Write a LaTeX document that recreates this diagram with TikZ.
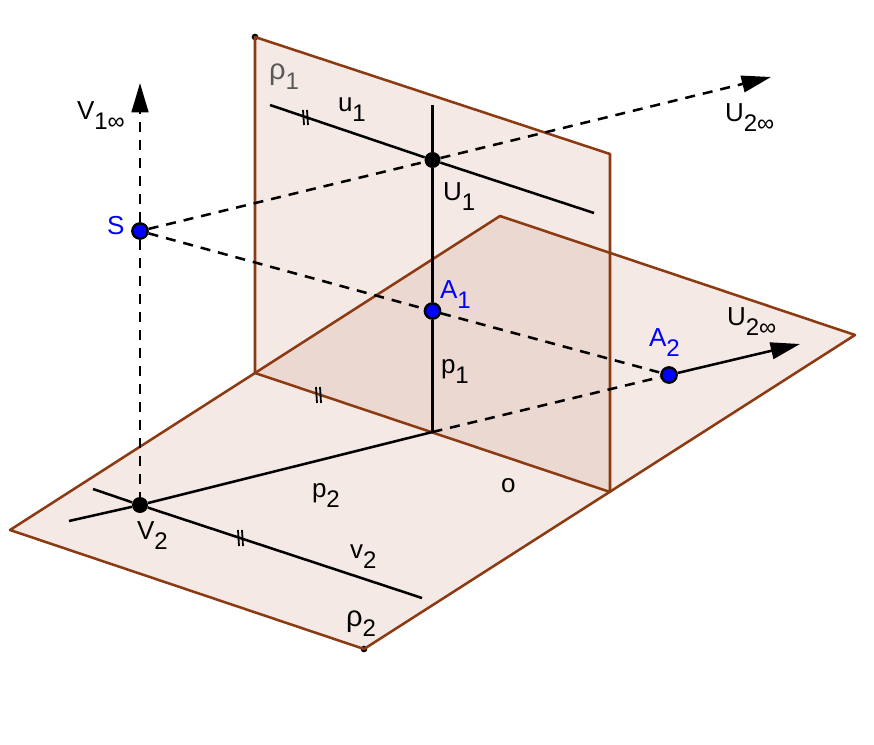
\documentclass[tikz,border=0pt]{standalone}
\usepackage{fontspec}
\setmainfont{Liberation Sans}
\usetikzlibrary{arrows.meta}
\definecolor{planeF}{HTML}{F5E9E5}
\definecolor{planeD}{HTML}{EBD8D0}
\definecolor{edgeC}{HTML}{8B3A12}
\newcommand{\lab}[2]{{\fontsize{19.5}{19.5}\selectfont #1}\raisebox{-7.5pt}{\fontsize{18}{18}\selectfont #2}}
\newcommand{\rholab}[1]{\lab{\scalebox{1.12}{ρ}}{#1}}
\tikzset{
 planeedge/.style={draw=edgeC,line width=1.9pt,line join=round},
 solidl/.style={draw=black,line width=1.9pt},
 dashl/.style={draw=black,line width=1.9pt,dash pattern=on 7.5pt off 6pt},
 tip/.style={-{Triangle[length=22pt,width=12.5pt]}},
 ptb/.style={circle,fill=black,inner sep=0pt,minimum size=12pt},
 ptk/.style={circle,fill=blue,draw=black,line width=1.8pt,inner sep=0pt,minimum size=11.5pt},
 ptd/.style={circle,fill=black,inner sep=0pt,minimum size=5pt},
 txt/.style={anchor=base west,inner sep=0pt,outer sep=0pt,text=black},
 tick/.style={draw=black,line width=1.35pt},
}
\begin{document}
\begin{tikzpicture}[x=0.75pt,y=-0.75pt]
\useasboundingbox (0,0) rectangle (874,745);
% plane corners
\coordinate (a1) at (255,37);
\coordinate (a2) at (610,154);
\coordinate (a3) at (610,492);
\coordinate (a4) at (255,373);
\coordinate (b1) at (10,530);
\coordinate (b2) at (500,216);
\coordinate (b3) at (855,335);
\coordinate (b4) at (364,649);
\coordinate (c1) at (610,253);
\coordinate (F) at (432.5,432);
% fills
\fill[planeF] (b1)--(b2)--(b3)--(b4)--cycle;
\fill[planeF] (a1)--(a2)--(a3)--(a4)--cycle;
\fill[planeD] (a4)--(b2)--(c1)--(a3)--cycle;
% free ends
\coordinate (u1a) at (270,105);
\coordinate (u1b) at (594,213);
\coordinate (p1a) at (432.5,105);
\coordinate (v2a) at (93,489);
\coordinate (v2b) at (422,598);
\coordinate (p2a) at (69,521);
\coordinate (Uinf) at (771,77);
\coordinate (Vinf) at (140,83);
\coordinate (Uinfb) at (800,344);
% points
\node[ptb] (U1) at (432.5,160) {};
\node[ptb] (V2) at (140,505) {};
\node[ptk] (S) at (140,231) {};
\node[ptk] (A1) at (432.5,311) {};
\node[ptk] (A2) at (669,375) {};
\node[ptd] (d1) at (a1) {};
\node[ptd] (d2) at (b4) {};
% plane edges
\draw[planeedge] (b1)--(b2)--(b3)--(b4)--cycle;
\draw[planeedge] (a1)--(a2)--(a3)--(a4)--cycle;
% connectors
\draw[solidl] (u1a)--(U1)--(u1b);
\draw[solidl] (p1a)--(U1)--(A1)--(F);
\draw[solidl] (v2a)--(V2)--(v2b);
\draw[solidl] (p2a)--(V2)--(F);
\draw[dashl,tip] (S)--(Vinf);
\draw[dashl] (S)--(V2);
\draw[dashl] (S)--(U1);
\draw[dashl,tip] (U1)--(Uinf);
\draw[dashl] (S)--(A1);
\draw[dashl] (A1)--(A2);
\draw[dashl] (F)--(A2);
\draw[solidl,tip] (A2)--(Uinfb);
% parallel marks
\draw[tick] (303,110)--(304,125) (307,110)--(308,125);
\draw[tick] (316,387)--(317,403) (320,387)--(321,403);
\draw[tick] (238,530)--(239,546) (242,530)--(243,546);
% labels
\node[txt] (lV) at (77,120) {\lab{V}{1∞}};
\node[txt] (lS) at (107,235) {\textcolor{blue}{\fontsize{19.5}{19.5}\selectfont S}};
\node[txt,text=black!65] (lr1) at (269,80) {\rholab{1}};
\node[txt] (lu1) at (338,112) {\lab{u}{1}};
\node[txt] (lU1) at (443,201) {\lab{U}{1}};
\node[txt] (lU) at (725,122) {\lab{U}{2∞}};
\node[txt] (lUb) at (727,325) {\lab{U}{2∞}};
\node[txt,text=blue] (lA1) at (440,298) {\lab{A}{1}};
\node[txt,text=blue] (lA2) at (649,346) {\lab{A}{2}};
\node[txt] (lp1) at (441,373) {\lab{p}{1}};
\node[txt] (lp2) at (312,497) {\lab{p}{2}};
\node[txt] (lo) at (501,492) {\fontsize{19.5}{19.5}\selectfont o};
\node[txt] (lV2) at (137,539) {\lab{V}{2}};
\node[txt] (lv2) at (350,558) {\lab{v}{2}};
\node[txt] (lr2) at (346,626) {\rholab{2}};
\end{tikzpicture}
\end{document}
